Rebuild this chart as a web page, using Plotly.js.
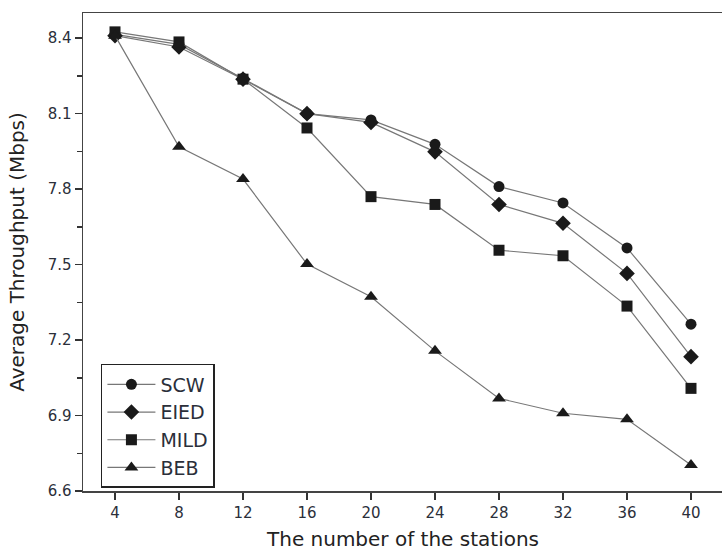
<!DOCTYPE html>
<html>
<head>
<meta charset="utf-8">
<script src="https://cdn.plot.ly/plotly-3.0.1.min.js"></script>
<style>
html,body{margin:0;padding:0;background:#fff;overflow:hidden;width:722px;height:551px;}
#chart{width:728px;height:551px;}
</style>
</head>
<body>
<div id="chart"></div>
<script>
const stations = [4, 8, 12, 16, 20, 24, 28, 32, 36, 40];
const scw  = [8.415, 8.375, 8.240, 8.100, 8.075, 7.978, 7.810, 7.745, 7.566, 7.263];
const eied = [8.410, 8.365, 8.237, 8.100, 8.065, 7.948, 7.739, 7.664, 7.465, 7.134];
const mild = [8.425, 8.385, 8.237, 8.043, 7.770, 7.739, 7.557, 7.535, 7.335, 7.008];
const beb  = [8.410, 7.968, 7.840, 7.502, 7.372, 7.157, 6.968, 6.909, 6.885, 6.703];
const seriesNames = ["SCW", "EIED", "MILD", "BEB"];
const yTickVals = [6.6, 6.9, 7.2, 7.5, 7.8, 8.1, 8.4];
const yTickText = ["6.6", "6.9", "7.2", "7.5", "7.8", "8.1", "8.4"];

const symbols = ["circle", "diamond", "square", "triangle-up"];
const sizes = [11, 12, 11, 12];
const data = [scw, eied, mild, beb].map((ys, i) => ({
  x: stations, y: ys, name: seriesNames[i], type: "scatter", mode: "lines+markers",
  line: {color: "#777", width: 1.2},
  marker: {symbol: symbols[i], size: sizes[i], color: "#1a1a1a", line: {width: 0}}
}));

const fam = "DejaVu Sans, Liberation Sans, Arial, sans-serif";
const txt = "#2b2f3a";
const layout = {
  width: 728, height: 551,
  margin: {l: 83, r: 3, t: 13, b: 60},
  paper_bgcolor: "#fff", plot_bgcolor: "#fff",
  showlegend: true,
  legend: {
    x: 0.028, y: 0.2657, xanchor: "left", yanchor: "top",
    bgcolor: "#fff", bordercolor: "#222", borderwidth: 1.5,
    font: {family: fam, size: 19, color: txt},
    itemwidth: 48, tracegroupgap: 0
  },
  xaxis: {
    range: [2, 42], tickmode: "array", tickvals: stations, ticktext: stations.map(String),
    ticks: "outside", ticklen: 7, tickwidth: 1.5, tickcolor: "#333",
    showline: true, linecolor: "#444", linewidth: 1.5, mirror: true,
    showgrid: false, zeroline: false,
    tickfont: {family: fam, size: 15, color: txt},
    title: {text: "The number of the stations", font: {family: fam, size: 20, color: "#222"}}
  },
  yaxis: {
    range: [6.6, 8.5], tickmode: "array", tickvals: yTickVals, ticktext: yTickText,
    ticks: "outside", ticklen: 7, tickwidth: 1.5, tickcolor: "#333",
    minor: {tickvals: [6.75, 7.05, 7.35, 7.65, 7.95, 8.25], ticks: "outside", ticklen: 5, tickwidth: 1.5, tickcolor: "#333", showgrid: false},
    showline: true, linecolor: "#444", linewidth: 1.5, mirror: true,
    showgrid: false, zeroline: false, automargin: true,
    tickfont: {family: fam, size: 15, color: txt},
    title: {text: "Average Throughput (Mbps)", standoff: 17, font: {family: fam, size: 20, color: "#222"}}
  }
};
Plotly.newPlot("chart", data, layout, {displayModeBar: false, staticPlot: true});
</script>
</body>
</html>
